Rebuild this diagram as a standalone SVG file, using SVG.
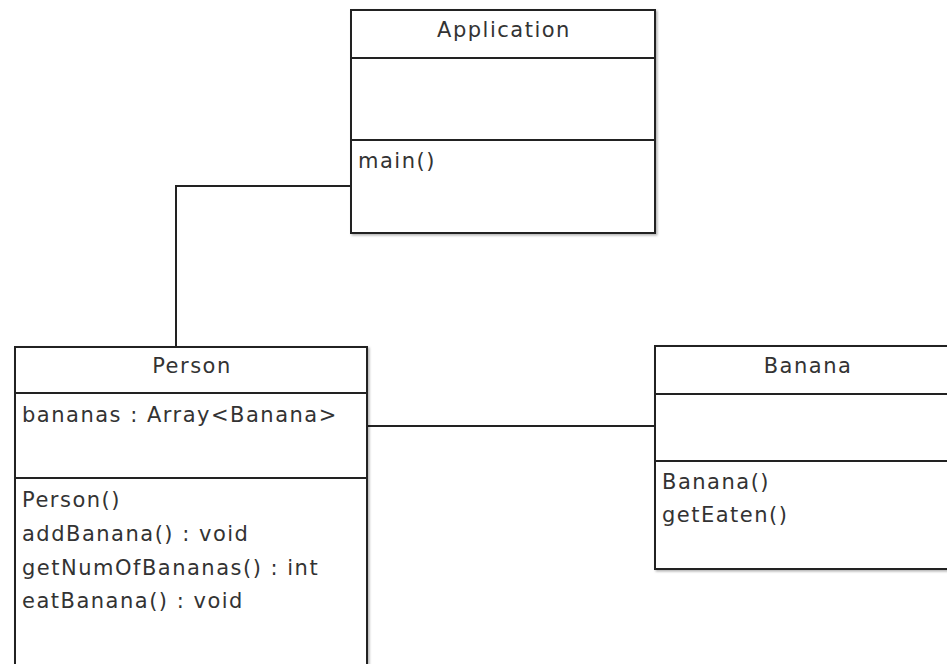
<svg xmlns="http://www.w3.org/2000/svg" width="947" height="664" viewBox="0 0 947 664">
<defs>
<filter id="sh" x="-5%" y="-5%" width="110%" height="110%">
<feDropShadow dx="1.5" dy="1.5" stdDeviation="1" flood-color="#000" flood-opacity="0.3"/>
</filter>
</defs>
<style>
.box{fill:#fff;stroke:#222;stroke-width:2;filter:url(#sh)}
.sep{stroke:#222;stroke-width:2}
.conn{fill:none;stroke:#222;stroke-width:2}
text{font-family:"DejaVu Sans","Liberation Sans",sans-serif;font-size:21px;letter-spacing:1.5px;fill:#333}
.title{text-anchor:middle}
</style>
<rect width="947" height="664" fill="#fff"/>
<g id="connectors">
<polyline class="conn" points="351,186 176,186 176,347"/>
<line class="conn" x1="366" y1="426" x2="655" y2="426"/>
</g>
<g id="application">
<rect class="box" x="351" y="10" width="304" height="223"/>
<line class="sep" x1="351" y1="58" x2="655" y2="58"/>
<line class="sep" x1="351" y1="140" x2="655" y2="140"/>
<text class="title" x="504" y="37">Application</text>
<text x="358" y="168">main()</text>
</g>
<g id="person">
<rect class="box" x="15" y="347" width="352" height="330"/>
<line class="sep" x1="15" y1="393" x2="367" y2="393"/>
<line class="sep" x1="15" y1="478" x2="367" y2="478"/>
<text class="title" x="192" y="373">Person</text>
<text x="22" y="422">bananas : Array&lt;Banana&gt;</text>
<text x="22" y="507">Person()</text>
<text x="22" y="541">addBanana() : void</text>
<text x="22" y="575">getNumOfBananas() : int</text>
<text x="22" y="608">eatBanana() : void</text>
</g>
<g id="banana">
<rect class="box" x="655" y="346" width="300" height="223"/>
<line class="sep" x1="655" y1="394" x2="955" y2="394"/>
<line class="sep" x1="655" y1="461" x2="955" y2="461"/>
<text class="title" x="808" y="373">Banana</text>
<text x="662" y="489">Banana()</text>
<text x="662" y="522">getEaten()</text>
</g>
</svg>
